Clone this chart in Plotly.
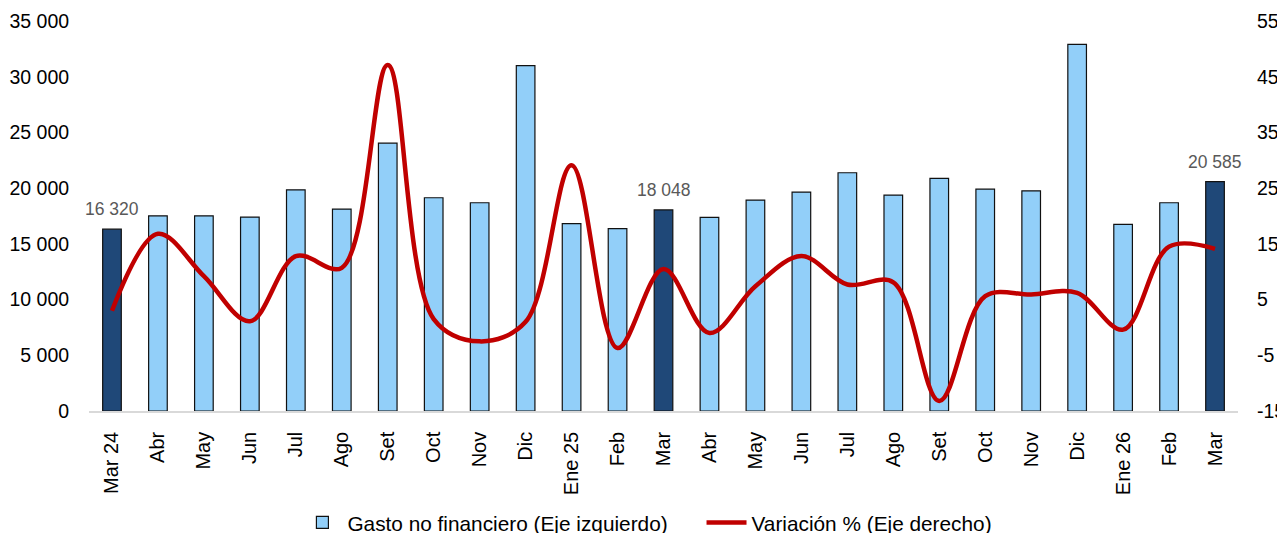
import plotly.graph_objects as go

meses = ["Mar 24", "Abr", "May", "Jun", "Jul", "Ago", "Set", "Oct", "Nov", "Dic",
         "Ene 25", "Feb", "Mar", "Abr", "May", "Jun", "Jul", "Ago", "Set", "Oct",
         "Nov", "Dic", "Ene 26", "Feb", "Mar"]
gasto = [16320, 17520, 17520, 17400, 19850, 18120, 24040, 19140, 18690, 31000,
         16810, 16360, 18048, 17370, 18930, 19650, 21380, 19380, 20870, 19910,
         19760, 32910, 16740, 18690, 20585]
variacion = [3.0, 16.8, 9.2, 1.1, 12.8, 10.7, 47.1, 1.5, -2.5, 1.0,
             29.1, -3.7, 10.5, -1.0, 7.4, 12.8, 7.7, 8.1, -13.2, 5.6,
             5.9, 6.2, -0.4, 14.5, 14.1]
ticks_der = [-15, -5, 5, 15, 25, 35, 45, 55]

CLARO = "#92CFF9"
OSCURO = "#1F4878"
ROJO = "#C00000"

# los meses de marzo van resaltados y con etiqueta
x = list(range(len(meses)))
resaltado = [m.startswith("Mar") for m in meses]
colores = [OSCURO if r else CLARO for r in resaltado]

fig = go.Figure()
fig.add_trace(go.Bar(
    x=x, y=gasto, showlegend=False,
    marker=dict(color=colores, line=dict(color="#111111", width=1.2)),
))
# solo para la leyenda (con el color claro)
fig.add_trace(go.Bar(
    x=[None], y=[None], name="Gasto no financiero (Eje izquierdo)" + "\u00a0" * 5,
    marker=dict(color=CLARO, line=dict(color="#111111", width=1.2)),
))
fig.add_trace(go.Scatter(
    x=x, y=variacion, name="Variación % (Eje derecho)", yaxis="y2",
    mode="lines", line=dict(color=ROJO, width=4.5, shape="spline", smoothing=1.0),
))

for i, (v, r) in enumerate(zip(gasto, resaltado)):
    if r:
        fig.add_annotation(x=i, y=v, text="{:,}".format(v).replace(",", " "),
                           showarrow=False, yanchor="bottom", yshift=8,
                           font=dict(size=17.5, color="#595959"))

# la pagina deja 8px de margen, por eso los margenes van corridos
fig.update_layout(
    width=1285, height=533,
    margin=dict(l=81, r=55, t=13, b=129.5),
    plot_bgcolor="white", paper_bgcolor="white",
    font=dict(family="Liberation Sans, Arial", size=20, color="#000000"),
    bargap=0.595,
    barmode="overlay",
    showlegend=True,
    legend=dict(orientation="h", x=0.486, xanchor="center",
                yref="container", y=0.034, yanchor="middle",
                font=dict(size=20.8), itemwidth=40, traceorder="normal"),
    xaxis=dict(tickmode="array", tickvals=x, ticktext=meses, tickangle=-90,
               range=[-0.5, len(meses) - 0.5], automargin=False,
               showline=True, linecolor="#D9D9D9", linewidth=1.5,
               ticks="outside", ticklen=11, tickcolor="rgba(0,0,0,0)",
               showgrid=False),
    yaxis=dict(range=[0, 35000], dtick=5000, tickformat=",d", showgrid=False,
               zeroline=False, automargin=False, tickfont=dict(size=19.5),
               ticks="outside", ticklen=15, tickcolor="rgba(0,0,0,0)"),
    yaxis2=dict(range=[-15, 55], tickmode="array", tickvals=ticks_der,
                ticktext=[str(t) for t in ticks_der], overlaying="y", side="right",
                showgrid=False, zeroline=False, automargin=False, tickfont=dict(size=19.5),
                ticks="outside", ticklen=14, tickcolor="rgba(0,0,0,0)"),
    separators=". ",
)

fig.write_html("out.html")
